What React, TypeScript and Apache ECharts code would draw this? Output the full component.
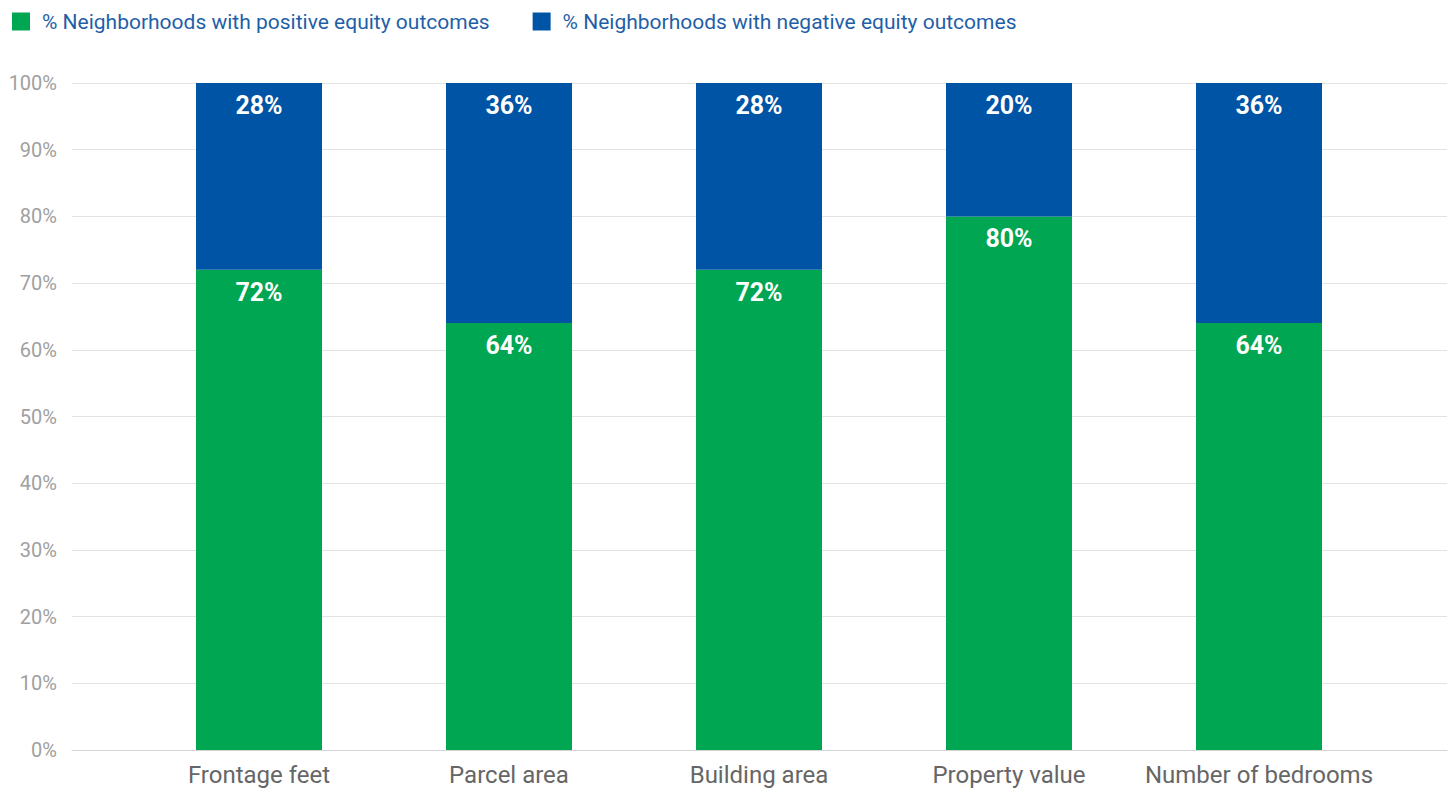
import React, { useEffect, useRef } from "react";
import * as echarts from "echarts";

const categories = ["Frontage feet", "Parcel area", "Building area", "Property value", "Number of bedrooms"];
const positiveValues = [72, 64, 72, 80, 64];
const negativeValues = [28, 36, 28, 20, 36];
const seriesNames = [
  "% Neighborhoods with positive equity outcomes",
  "% Neighborhoods with negative equity outcomes",
];
const GREEN = "#00A651";
const BLUE = "#0054A6";
const FONT = "Roboto";

export default function App() {
  const ref = useRef<HTMLDivElement>(null);
  useEffect(() => {
    if (!ref.current) return;
    const chart = echarts.init(ref.current, undefined, { renderer: "svg" });
    const label = {
      show: true,
      position: "insideTop" as const,
      distance: 10,
      formatter: "{c}%",
      color: "#fff",
      fontSize: 25,
      fontWeight: "bold" as const,
      fontFamily: FONT,
    };
    chart.setOption({
      animation: false,
      textStyle: { fontFamily: FONT },
      legend: {
        left: 7,
        top: 6,
        itemWidth: 18,
        itemHeight: 18,
        itemGap: 43,
        icon: "rect",
        textStyle: { color: "#1F5FA8", fontSize: 21, fontFamily: FONT, padding: [0, 0, 0, 7] },
        data: seriesNames,
      },
      grid: [
        { left: 134, right: 69, top: 83, bottom: 40 },
        { left: 72, right: 6, top: 83, bottom: 40 },
      ],
      xAxis: [
        {
          type: "category",
          gridIndex: 0,
          data: categories,
          axisLine: { show: false },
          axisTick: { show: false },
          axisLabel: { color: "#666", fontSize: 24, margin: 13, interval: 0, fontFamily: FONT },
        },
        {
          type: "category",
          gridIndex: 1,
          data: [""],
          axisLine: { show: true, lineStyle: { color: "#d4d4d4", width: 1 } },
          axisTick: { show: false },
          axisLabel: { show: false },
        },
      ],
      yAxis: [
        {
          type: "value",
          gridIndex: 0,
          min: 0,
          max: 100,
          interval: 10,
          show: false,
          splitLine: { show: false },
        },
        {
          type: "value",
          gridIndex: 1,
          min: 0,
          max: 100,
          interval: 10,
          axisLine: { show: false },
          axisTick: { show: false },
          axisLabel: { formatter: "{value}%", color: "#a0a0a0", fontSize: 20, margin: 15, fontFamily: FONT },
          splitLine: { show: true, lineStyle: { color: "#e2e2e2", width: 1 } },
        },
      ],
      series: [
        {
          name: seriesNames[0],
          type: "bar",
          stack: "total",
          xAxisIndex: 0,
          yAxisIndex: 0,
          barWidth: 126,
          data: positiveValues,
          itemStyle: { color: GREEN },
          label,
          z: 3,
        },
        {
          name: seriesNames[1],
          type: "bar",
          stack: "total",
          xAxisIndex: 0,
          yAxisIndex: 0,
          barWidth: 126,
          data: negativeValues,
          itemStyle: { color: BLUE },
          label,
          z: 3,
        },
      ],
    });
    return () => chart.dispose();
  }, []);
  return <div ref={ref} style={{ width: 1453, height: 790, position: "absolute", left: 0, top: 0 }} />;
}
